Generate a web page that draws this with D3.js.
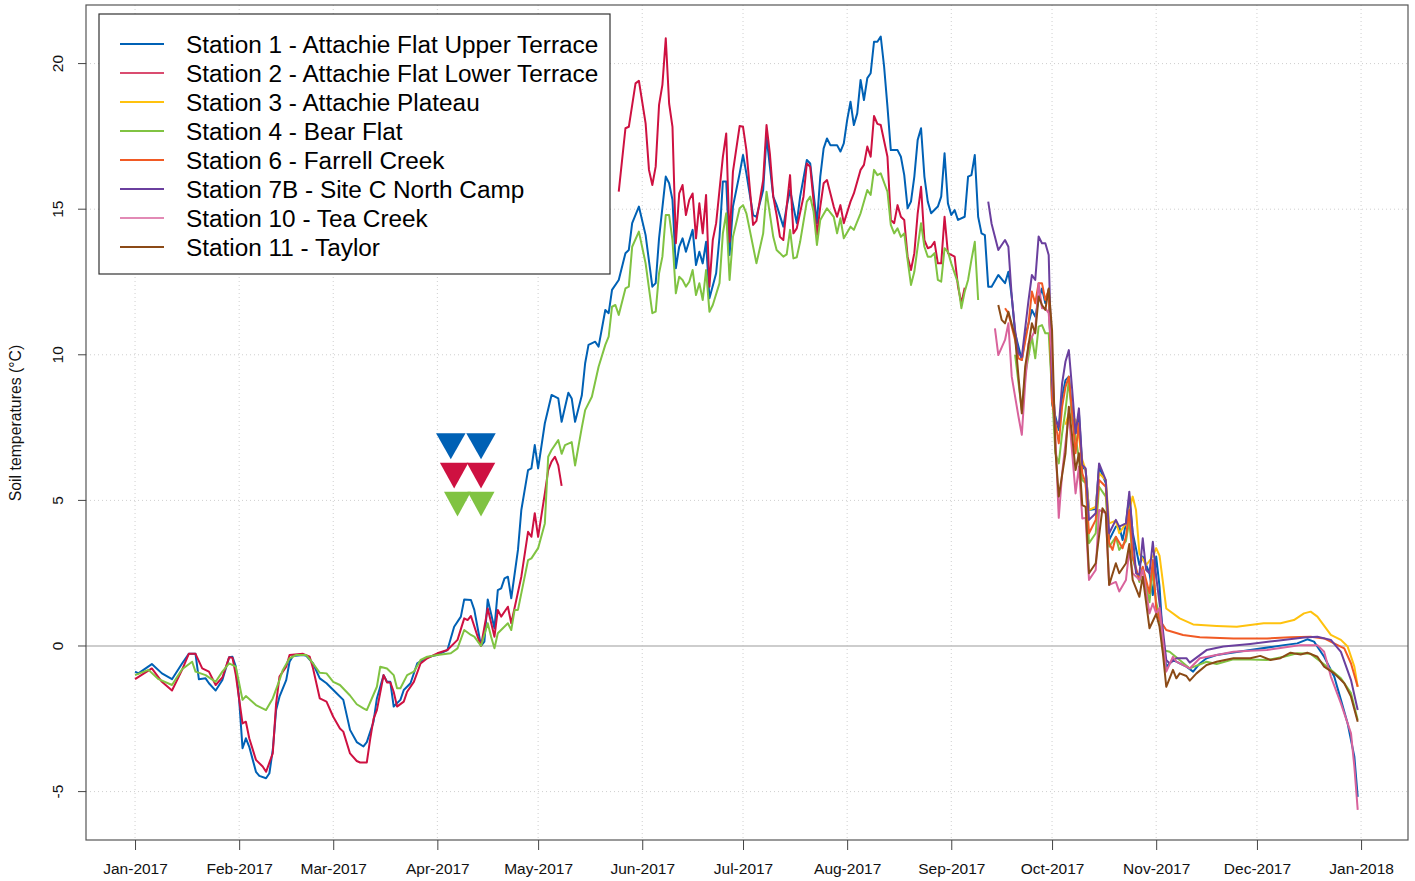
<!DOCTYPE html>
<html><head><meta charset="utf-8">
<script src="https://cdn.jsdelivr.net/npm/d3@7"></script>
<style>body{margin:0;background:#fff}svg{display:block}text{font-family:"Liberation Sans",Arial,sans-serif}</style>
</head><body><svg id="chart" width="1415" height="881"></svg>
<script>
// ---------------- DATA (day = days since 2017-01-01) ----------------
const yearStart = "2017-01-01";
const monthTickLabels = ["Jan-2017","Feb-2017","Mar-2017","Apr-2017","May-2017","Jun-2017","Jul-2017","Aug-2017","Sep-2017","Oct-2017","Nov-2017","Dec-2017","Jan-2018"];
const yTickValues = [-5, 0, 5, 10, 15, 20];
const seriesNames = ["Station 1 - Attachie Flat Upper Terrace","Station 2 - Attachie Flat Lower Terrace","Station 3 - Attachie Plateau","Station 4 - Bear Flat","Station 6 - Farrell Creek","Station 7B - Site C North Camp","Station 10 - Tea Creek","Station 11 - Taylor"];

const station1 = [[0,-0.88],[1,-0.94],[5,-0.62],[8,-0.94],[11,-1.14],[14,-0.6],[16,-0.27],[18,-0.27],[19,-1.14],[21,-1.11],[22,-1.28],[24,-1.53],[26,-1.17],[28,-0.39],[29,-0.37],[30,-0.71],[31,-1.85],[32,-3.51],[33,-3.17],[34,-3.46],[36,-4.32],[37,-4.46],[39,-4.54],[40,-4.37],[41,-3.57],[42,-2.2],[43,-1.74],[45,-1.17],[46,-0.54],[47,-0.34],[50,-0.31],[51,-0.34],[53,-0.6],[55,-1.11],[57,-1.28],[60,-1.62],[62,-1.85],[64,-2.88],[66,-3.3],[68,-3.45],[69,-3.3],[71,-2.6],[72,-1.8],[74,-1.0],[75,-1.23],[76,-1.23],[77,-2.08],[79,-1.85],[80,-1.51],[82,-1.28],[84,-0.6],[87,-0.39],[90,-0.3],[93,-0.14],[95,0.66],[97,1.01],[98,1.6],[100,1.58],[101,1.24],[103,0.0],[104,0.15],[105,1.6],[107,0.61],[108,1.92],[109,1.98],[110,2.32],[111,2.38],[112,1.64],[114,3.3],[115,4.67],[117,6.04],[118,6.1],[119,6.9],[120,6.1],[122,7.65],[124,8.62],[126,8.5],[127,7.7],[129,8.7],[130,8.5],[131,7.7],[133,8.6],[134,9.71],[135,10.34],[137,10.45],[138,10.28],[140,11.54],[141,11.43],[142,12.23],[144,12.57],[146,13.49],[147,13.6],[148,14.52],[150,15.09],[152,14.11],[154,12.34],[155,12.46],[156,14.0],[158,16.12],[159,15.89],[160,15.32],[161,12.97],[162,13.71],[163,14.0],[164,13.54],[166,14.29],[167,13.08],[168,13.54],[169,13.14],[170,13.88],[171,11.94],[173,12.8],[174,14.05],[175,15.95],[176,15.95],[177,13.43],[178,15.09],[180,16.23],[181,16.86],[182,16.23],[184,14.8],[185,14.74],[187,15.66],[188,17.49],[189,16.46],[190,15.43],[191,15.14],[193,14.4],[194,15.09],[195,15.66],[197,14.52],[198,15.43],[200,16.69],[201,16.57],[203,14.52],[204,16.12],[205,17.09],[206,17.43],[207,17.2],[209,17.2],[210,16.98],[211,17.26],[212,18.06],[213,18.69],[214,17.89],[215,18.29],[216,19.44],[217,18.75],[218,19.5],[219,19.67],[220,20.75],[221,20.75],[222,20.93],[223,19.9],[224,18.52],[225,17.03],[227,17.03],[228,16.8],[229,16.17],[230,15.03],[231,15.26],[232,16.12],[233,17.38],[234,17.78],[235,16.12],[236,15.26],[237,14.86],[239,15.09],[240,15.43],[241,16.92],[242,15.2],[243,14.8],[244,14.97],[245,14.63],[247,14.74],[248,16.12],[249,16.17],[250,16.86],[251,14.74],[252,14.17],[253,14.11],[254,12.34],[255,12.34],[257,12.74],[259,12.46],[260,12.85],[261,12.0],[262,10.74],[264,9.82],[265,10.62],[267,11.54],[268,11.31],[269,11.88],[270,12.28],[271,11.77],[272,12.23],[273,8.33],[275,7.42],[276,8.56],[277,9.13],[278,9.25],[279,7.99],[280,7.3],[281,8.0],[282,6.16],[283,6.04],[284,4.67],[286,4.7],[287,6.16],[289,5.59],[290,3.64],[292,4.1],[293,4.1],[294,3.64],[295,4.21],[296,5.13],[297,3.9],[299,2.78],[300,3.07],[302,2.5],[303,1.75],[304,3.07],[305,2.04],[306,0.21],[307,-0.71],[309,-0.48],[311,-0.6],[313,-0.71],[315,-0.88],[317,-0.6],[319,-0.42],[322,-0.31],[332,-0.14],[342,0.03],[346,0.09],[349,0.23],[351,0.15],[354,-0.37],[357,-1.05],[359,-1.85],[361,-2.66],[363,-3.8],[364,-5.18]];

const station2 = [[0,-1.14],[5,-0.77],[8,-1.23],[11,-1.53],[14,-0.82],[16,-0.27],[18,-0.27],[20,-0.77],[22,-0.88],[24,-1.34],[26,-1.08],[28,-0.39],[29,-0.4],[30,-1.0],[32,-2.66],[33,-2.6],[34,-3.17],[36,-3.91],[38,-4.14],[39,-4.32],[41,-3.69],[42,-1.97],[43,-1.05],[45,-0.71],[46,-0.31],[50,-0.27],[52,-0.37],[53,-0.77],[55,-1.8],[57,-1.91],[59,-2.43],[61,-2.83],[62,-2.94],[64,-3.69],[66,-3.95],[67,-4.0],[69,-4.0],[70,-3.2],[71,-2.5],[72,-2.2],[74,-1.0],[75,-1.25],[76,-1.25],[77,-1.57],[78,-2.08],[80,-1.91],[81,-1.57],[83,-1.23],[85,-0.6],[87,-0.42],[90,-0.25],[93,-0.14],[96,0.21],[98,0.95],[99,0.89],[100,1.03],[102,0.32],[103,0.0],[105,1.29],[107,0.32],[108,1.24],[109,1.01],[111,1.35],[112,0.78],[115,2.38],[117,3.92],[118,3.75],[119,4.56],[120,3.75],[122,5.24],[123,6.04],[124,6.33],[125,6.5],[126,6.2],[127,5.5],[128,null],
[144,15.6],[146,17.78],[147,17.83],[149,19.32],[150,19.41],[152,17.95],[153,16.35],[154,15.83],[155,16.46],[156,18.58],[157,19.27],[158,20.87],[159,18.63],[160,17.83],[161,13.83],[162,15.54],[163,15.83],[164,14.8],[165,15.32],[166,15.54],[167,14.0],[168,15.2],[169,14.17],[170,15.49],[171,12.34],[172,13.94],[173,14.52],[175,16.8],[176,17.6],[177,13.88],[178,16.29],[180,17.86],[181,17.83],[182,17.03],[184,14.46],[185,14.6],[187,16.0],[188,17.89],[189,16.9],[190,15.43],[191,14.8],[192,14.05],[193,13.94],[194,15.09],[195,16.17],[196,14.17],[197,14.34],[199,15.43],[200,16.57],[201,16.46],[203,14.11],[204,15.09],[205,15.89],[206,16.0],[208,15.09],[209,14.74],[210,15.14],[211,14.52],[213,15.26],[214,15.54],[216,16.35],[217,16.52],[218,17.15],[219,16.8],[220,18.2],[221,17.93],[222,17.89],[224,16.8],[225,14.63],[226,14.52],[227,15.14],[228,14.74],[229,14.63],[230,13.37],[231,12.91],[232,13.49],[233,14.86],[234,15.77],[235,13.94],[236,13.66],[237,13.71],[238,13.88],[239,13.14],[240,13.14],[241,14.74],[242,13.49],[243,13.43],[244,13.37],[245,12.34],[246,11.77],[247,12.3]];

const station3 = [[277,7.6],[278,7.99],[280,7.76],[281,7.19],[282,6.39],[283,6.04],[284,4.67],[286,4.78],[287,5.93],[289,5.7],[290,4.21],[292,4.3],[293,3.87],[295,4.21],[297,5.13],[298,4.67],[299,3.18],[301,2.78],[303,3.07],[304,3.36],[305,3.1],[307,1.29],[311,0.95],[315,0.74],[322,0.69],[328,0.66],[336,0.78],[341,0.78],[345,0.89],[348,1.12],[350,1.18],[352,1.01],[356,0.38],[359,0.21],[361,-0.02],[363,-0.71],[364,-1.4]];

const station4 = [[0,-1.0],[4,-0.82],[7,-1.14],[11,-1.34],[14,-0.8],[17,-0.54],[18,-0.88],[21,-1.0],[24,-1.23],[26,-0.88],[28,-0.6],[30,-0.71],[32,-1.85],[33,-1.72],[36,-2.03],[39,-2.2],[41,-1.8],[43,-1.17],[44,-0.82],[46,-0.42],[48,-0.31],[51,-0.31],[53,-0.6],[55,-0.92],[57,-0.94],[59,-1.23],[61,-1.34],[64,-1.7],[66,-2.0],[68,-2.14],[69,-2.2],[72,-1.4],[73,-0.71],[75,-0.77],[77,-1.0],[78,-1.45],[79,-1.45],[81,-1.0],[83,-0.88],[85,-0.48],[87,-0.37],[90,-0.31],[94,-0.25],[96,-0.08],[98,0.55],[100,0.38],[101,0.32],[103,0.0],[105,0.78],[106,0.32],[107,-0.08],[108,0.44],[111,0.78],[112,0.55],[113,1.24],[114,1.24],[117,2.95],[118,3.01],[120,3.36],[122,4.21],[123,6.5],[124,6.73],[126,7.07],[127,6.6],[128,6.9],[130,7.0],[131,6.2],[133,7.5],[134,8.1],[136,8.56],[138,9.59],[140,10.34],[141,10.62],[142,11.65],[143,11.71],[144,11.37],[146,12.28],[147,12.34],[148,13.71],[150,14.23],[152,13.14],[154,11.43],[155,11.48],[156,12.8],[157,13.37],[158,14.8],[159,14.8],[160,13.94],[161,12.11],[162,12.68],[163,12.57],[164,12.34],[165,12.51],[166,12.91],[167,12.05],[168,12.46],[169,11.88],[170,12.91],[171,11.48],[172,11.71],[174,12.46],[175,14.17],[176,14.86],[177,12.57],[178,14.05],[180,15.03],[181,15.14],[182,14.86],[183,14.29],[185,13.14],[187,14.17],[188,15.6],[190,14.05],[191,13.6],[192,13.49],[193,13.37],[194,13.45],[195,14.29],[196,13.31],[197,13.35],[198,13.88],[200,15.26],[201,15.43],[202,14.92],[203,13.77],[204,14.63],[206,15.03],[208,14.74],[209,14.17],[210,14.69],[211,14.0],[213,14.4],[214,14.29],[216,14.86],[218,15.66],[219,15.49],[220,16.35],[221,16.17],[222,16.23],[224,15.6],[225,14.46],[226,14.17],[227,14.34],[228,14.05],[229,14.17],[230,13.26],[231,12.4],[232,12.85],[233,13.71],[234,14.52],[235,13.71],[236,13.37],[237,13.37],[238,13.49],[239,12.57],[240,12.51],[241,13.66],[242,13.54],[243,13.14],[245,12.46],[246,11.6],[247,12.17],[248,12.57],[249,13.26],[250,13.88],[251,11.88],[252,null],
[262,10.0],[264,8.1],[265,9.3],[267,10.62],[268,9.88],[269,10.97],[270,11.02],[271,10.74],[272,10.74],[274,6.62],[275,6.27],[276,7.3],[277,8.1],[278,9.13],[279,7.76],[280,7.19],[282,5.7],[283,5.59],[284,3.53],[286,3.87],[287,5.47],[289,5.13],[290,3.41],[292,3.75],[293,3.3],[295,3.6],[296,4.3],[297,3.0],[299,2.2],[300,2.7],[302,1.5],[303,2.6],[304,1.5],[305,1.0],[306,-0.14],[308,-0.2],[311,-0.48],[314,-0.77],[319,-0.54],[322,-0.62],[327,-0.46],[332,-0.46],[337,-0.48],[342,-0.37],[346,-0.25],[350,-0.27],[353,-0.54],[356,-0.82],[359,-1.11],[362,-1.62],[364,-2.54]];

const station6 = [[259,11.6],[260,11.43],[262,10.51],[263,9.88],[264,9.82],[266,11.08],[267,12.17],[268,11.77],[269,12.46],[270,12.46],[271,11.88],[272,12.23],[273,8.4],[275,6.96],[276,8.22],[277,8.9],[278,9.25],[279,7.99],[280,6.62],[281,7.65],[282,5.93],[283,5.59],[284,3.87],[286,4.33],[287,5.7],[289,5.47],[290,3.53],[291,3.3],[292,3.75],[294,3.36],[295,3.75],[296,4.67],[297,3.07],[299,2.27],[300,2.72],[302,1.81],[303,2.95],[304,1.3],[305,0.9],[307,0.55],[312,0.38],[317,0.3],[327,0.26],[337,0.26],[344,0.3],[350,0.32],[354,0.26],[358,0.03],[360,-0.08],[362,-0.6],[364,-1.4]];

const station7B = [[254,15.26],[255,14.5],[257,13.6],[259,13.94],[260,13.71],[261,12.0],[262,10.85],[263,10.05],[264,9.93],[266,11.88],[267,12.74],[268,12.57],[269,14.06],[270,13.83],[271,13.83],[272,13.43],[273,9.13],[274,7.76],[275,7.53],[276,9.02],[277,9.77],[278,10.16],[279,8.79],[280,7.3],[281,8.16],[282,6.22],[283,6.1],[284,4.33],[286,4.56],[287,6.27],[289,5.7],[290,3.87],[292,4.33],[293,4.1],[295,4.21],[296,5.3],[297,3.87],[298,2.5],[299,2.44],[300,3.7],[301,2.61],[302,2.5],[303,3.58],[304,2.38],[306,0.55],[307,-0.48],[308,-0.6],[310,-0.42],[313,-0.42],[314,-0.57],[319,-0.14],[324,-0.02],[332,0.07],[340,0.18],[348,0.29],[352,0.32],[356,0.21],[359,-0.2],[362,-1.17],[364,-2.2]];

const station10 = [[256,10.91],[257,9.99],[259,10.51],[260,11.08],[261,9.25],[263,7.88],[264,7.25],[265,9.02],[266,10.39],[268,10.85],[269,12.46],[270,11.6],[271,11.6],[272,11.43],[273,9.93],[275,4.4],[276,5.93],[278,7.99],[279,6.62],[280,5.24],[281,6.16],[282,4.38],[283,4.4],[284,2.27],[286,2.61],[287,4.67],[289,4.56],[290,2.1],[292,2.2],[293,1.87],[295,2.27],[296,3.3],[297,2.5],[299,2.27],[300,2.61],[302,1.12],[303,1.46],[304,1.12],[305,1.3],[307,-0.88],[309,-0.37],[310,-0.54],[314,-0.77],[317,-0.42],[322,-0.31],[327,-0.2],[332,-0.16],[337,-0.14],[342,-0.05],[347,0.03],[352,0.03],[354,-0.2],[356,-1.05],[359,-1.97],[362,-3.0],[363,-4.14],[364,-5.63]];

const station11 = [[257,11.71],[258,11.2],[259,11.08],[260,11.48],[262,10.62],[263,9.25],[264,7.99],[265,9.59],[267,11.08],[268,10.74],[269,12.0],[270,11.71],[271,11.54],[272,12.28],[273,10.85],[274,6.73],[275,5.13],[277,6.62],[278,8.22],[279,7.19],[280,6.04],[281,6.62],[282,4.84],[283,4.78],[284,2.5],[286,2.84],[288,4.73],[289,4.56],[290,2.1],[292,2.84],[293,2.5],[295,2.84],[296,3.5],[297,2.27],[299,1.69],[300,2.38],[302,0.61],[304,1.1],[305,0.66],[306,-0.25],[307,-1.4],[309,-0.82],[310,-1.11],[311,-0.94],[313,-1.03],[314,-1.19],[316,-0.94],[319,-0.65],[322,-0.54],[327,-0.42],[332,-0.42],[335,-0.34],[338,-0.48],[341,-0.42],[344,-0.23],[347,-0.29],[349,-0.23],[352,-0.37],[354,-0.71],[357,-0.94],[360,-1.28],[362,-1.74],[364,-2.6]];

// event markers (down triangles) for stations 1, 2 and 4
const markerStation = [0, 1, 3];
const markerDays = [[94, 103], [95, 103], [96, 103]];
const markerValues = [6.86, 5.85, 4.87];

// ---------------- STYLE ----------------
const seriesData = [station1, station2, station3, station4, station6, station7B, station10, station11];
const seriesColors = ["#0061B5","#CE1141","#FFC20E","#80C342","#F15A24","#6A3F9E","#D9639C","#8B4A16"];
const legendWidths = [2, 1.3, 2, 2, 2, 2, 1.3, 2];
const markerSize = [[29.5,26],[28.5,25.6],[27,24.7]];

const svg = d3.select("#chart");
const L = 86, R = 1408, T = 5, B = 840;
const t0 = d3.isoParse(yearStart + "T00:00:00Z");
const dayToDate = d => new Date(t0.getTime() + d * 86400000);

const x = d3.scaleUtc()
  .domain([dayToDate(-14.6), dayToDate(378.97)])
  .range([L, R]);
const y = d3.scaleLinear().domain([-6.662, 22.012]).range([B, T]);

const monthDates = monthTickLabels.map((_, i) => d3.utcMonth.offset(t0, i));

// grid
const grid = svg.append("g");
grid.selectAll("line.v").data(monthDates).join("line")
  .attr("x1", d => x(d)).attr("x2", d => x(d)).attr("y1", T).attr("y2", B)
  .attr("stroke", "#cfcfcf").attr("stroke-width", 1).attr("stroke-dasharray", "1,3");
grid.selectAll("line.h").data(yTickValues.filter(v => v !== 0)).join("line")
  .attr("x1", L).attr("x2", R).attr("y1", d => y(d)).attr("y2", d => y(d))
  .attr("stroke", "#cfcfcf").attr("stroke-width", 1).attr("stroke-dasharray", "1,3");
grid.append("line").attr("x1", L).attr("x2", R).attr("y1", y(0)).attr("y2", y(0))
  .attr("stroke", "#bdbdbd").attr("stroke-width", 1.3);

// series lines
const line = d3.line()
  .defined(d => d[1] !== null)
  .x(d => x(dayToDate(d[0])))
  .y(d => y(d[1]));
svg.append("g").selectAll("path").data(seriesData).join("path")
  .attr("d", d => line(d))
  .attr("fill", "none")
  .attr("stroke", (d, i) => seriesColors[i])
  .attr("stroke-width", 2)
  .attr("stroke-linejoin", "round");

// markers
const mk = svg.append("g");
markerStation.forEach((s, k) => {
  const [w, h] = markerSize[k];
  markerDays[k].forEach(day => {
    const cx = x(dayToDate(day)), cy = y(markerValues[k]);
    mk.append("path")
      .attr("d", `M${cx - w/2},${cy - h/2}L${cx + w/2},${cy - h/2}L${cx},${cy + h/2}Z`)
      .attr("fill", seriesColors[s]);
  });
});

// frame
svg.append("rect").attr("x", L).attr("y", T).attr("width", R - L).attr("height", B - T)
  .attr("fill", "none").attr("stroke", "#555").attr("stroke-width", 1.2);

// x axis
const xAxis = d3.axisBottom(x).tickValues(monthDates)
  .tickFormat((d, i) => monthTickLabels[i]).tickSize(10).tickPadding(13);
const gx = svg.append("g").attr("transform", `translate(0,${B})`).call(xAxis);
gx.select(".domain").remove();
gx.selectAll(".tick line").attr("stroke", "#444");
gx.selectAll(".tick text").attr("font-size", 15.5).attr("fill", "#111")
  .style("font-family", '"Liberation Sans", Arial, sans-serif');

// y axis
const gy = svg.append("g");
gy.selectAll("line").data(yTickValues).join("line")
  .attr("x1", L - 8).attr("x2", L).attr("y1", d => y(d)).attr("y2", d => y(d))
  .attr("stroke", "#444");
gy.selectAll("text").data(yTickValues).join("text")
  .attr("transform", d => `translate(63,${y(d)}) rotate(-90)`)
  .attr("text-anchor", "middle").attr("font-size", 15.5).attr("fill", "#111")
  .text(d => d);
svg.append("text")
  .attr("transform", `translate(21,423) rotate(-90)`)
  .attr("text-anchor", "middle").attr("font-size", 15.8).attr("fill", "#111")
  .text("Soil temperatures (°C)");

// legend
const lg = svg.append("g");
lg.append("rect").attr("x", 99).attr("y", 14).attr("width", 511).attr("height", 260)
  .attr("fill", "#fff").attr("stroke", "#333").attr("stroke-width", 1.2);
seriesNames.forEach((name, i) => {
  const ry = 44 + i * 29;
  lg.append("line").attr("x1", 120).attr("x2", 164).attr("y1", ry).attr("y2", ry)
    .attr("stroke", seriesColors[i]).attr("stroke-width", legendWidths[i]);
  lg.append("text").attr("x", 186).attr("y", ry).attr("dy", "0.36em")
    .attr("font-size", 24.35).attr("fill", "#000").text(name);
});
</script>
</body></html>
